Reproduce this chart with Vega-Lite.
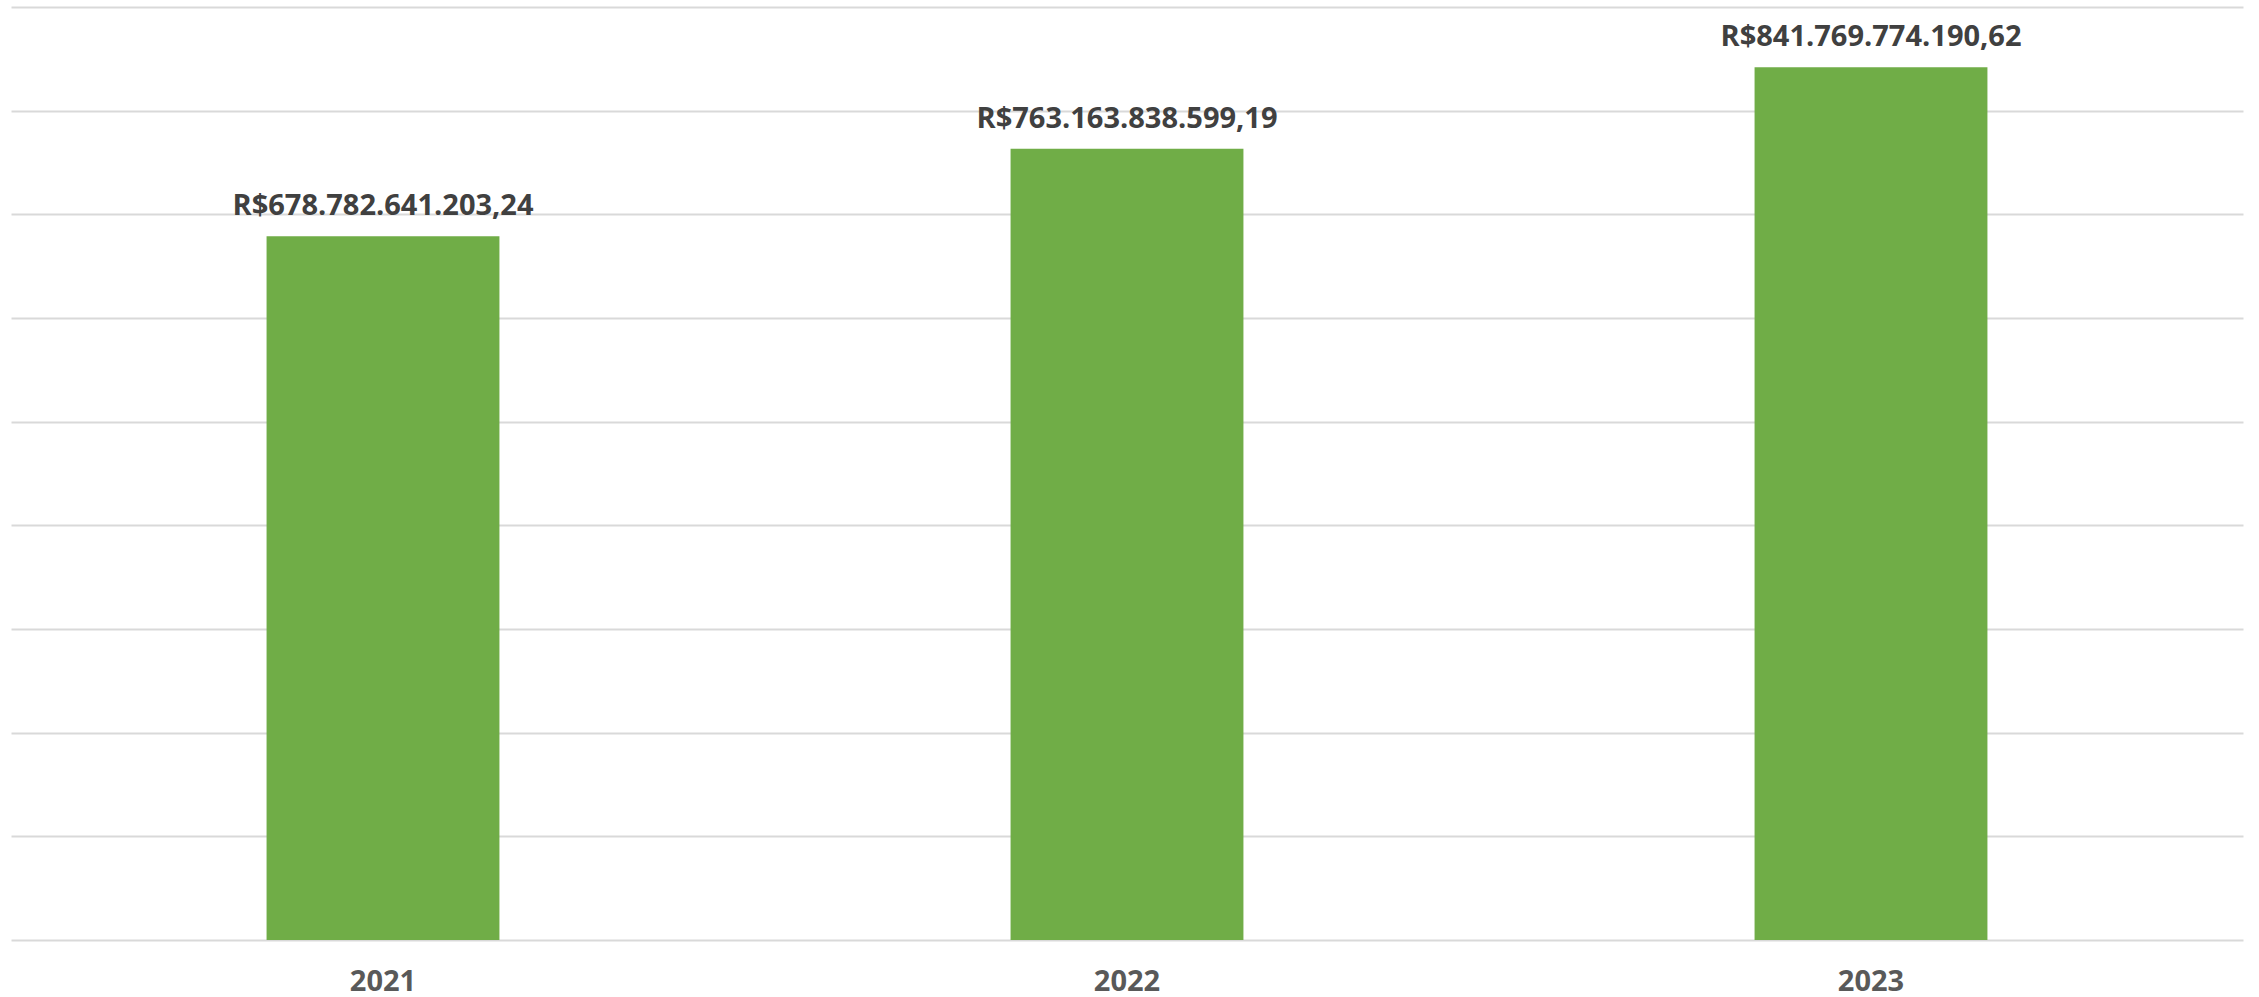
{
  "$schema": "https://vega.github.io/schema/vega-lite/v6.json",
  "autosize": {"type": "none"},
  "padding": {"left": 11, "top": 7, "right": 16, "bottom": 57},
  "width": 2232,
  "height": 933,
  "config": {
    "view": {"stroke": null},
    "locale": {
      "number": {"decimal": ",", "thousands": ".", "grouping": [3], "currency": ["R$", ""]}
    }
  },
  "data": {
    "values": [
      {"ano": "2021", "valor": 678782641203.24},
      {"ano": "2022", "valor": 763163838599.19},
      {"ano": "2023", "valor": 841769774190.62}
    ]
  },
  "encoding": {
    "x": {
      "field": "ano",
      "type": "nominal",
      "title": null,
      "scale": {"paddingInner": 0.687, "paddingOuter": 0.3435},
      "axis": {
        "labelAngle": 0,
        "domain": false,
        "ticks": false,
        "labelFont": "Open Sans",
        "labelFontWeight": "bold",
        "labelFontSize": 29,
        "labelColor": "#595959",
        "labelPadding": 27
      }
    },
    "y": {
      "field": "valor",
      "type": "quantitative",
      "title": null,
      "scale": {"domain": [0, 900000000000], "nice": false},
      "axis": {
        "values": [0, 100000000000, 200000000000, 300000000000, 400000000000, 500000000000, 600000000000, 700000000000, 800000000000, 900000000000],
        "labels": false,
        "ticks": false,
        "domain": false,
        "gridColor": "#d9d9d9",
        "gridWidth": 2
      }
    }
  },
  "layer": [
    {
      "mark": {"type": "bar", "color": "#70ad47"}
    },
    {
      "mark": {
        "type": "text",
        "baseline": "alphabetic",
        "dy": -21,
        "font": "Open Sans",
        "fontWeight": "bold",
        "fontSize": 29,
        "color": "#404040"
      },
      "encoding": {
        "text": {"field": "valor", "type": "quantitative", "format": "$,.2f"}
      }
    }
  ]
}
